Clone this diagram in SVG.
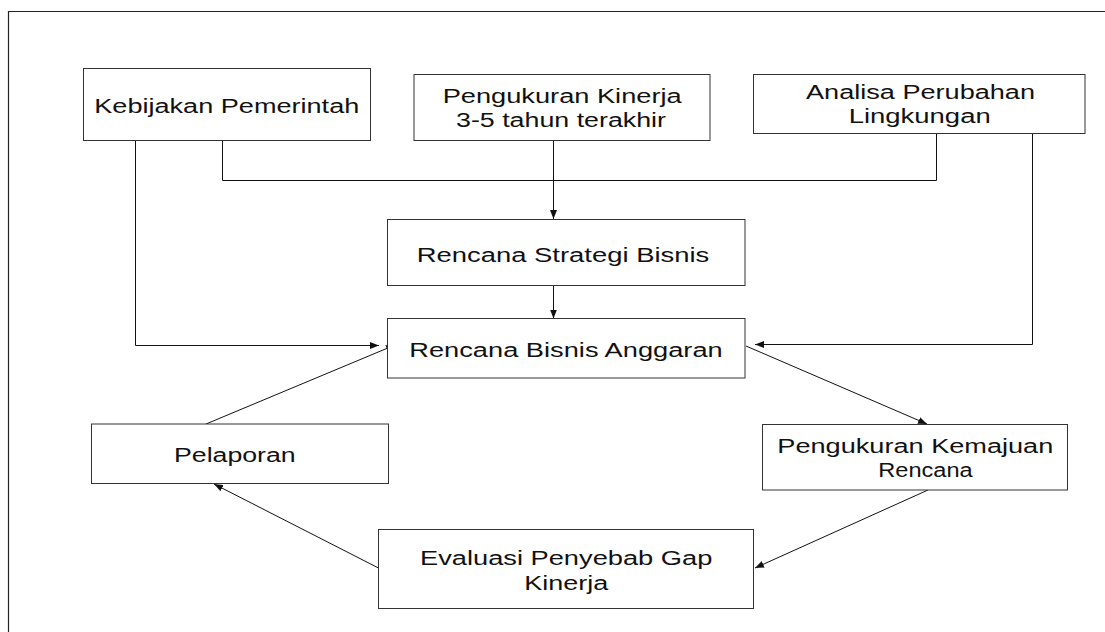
<svg xmlns="http://www.w3.org/2000/svg" width="1105" height="632" viewBox="0 0 1105 632">
<style>
.box{fill:#fff;stroke:#333;stroke-width:1}
.lbl{font-family:"Liberation Sans",Arial,sans-serif;font-size:19.5px;fill:#111}
.con{fill:none;stroke:#111;stroke-width:1}
.arr{marker-end:url(#ah)}
</style>
<defs>
<marker id="ah" markerUnits="userSpaceOnUse" markerWidth="9" markerHeight="7" refX="9" refY="3.5" orient="auto">
<path d="M0,0 L9,3.5 L0,7 z" fill="#111"/>
</marker>
</defs>
<rect width="1105" height="632" fill="#fff"/>
<path d="M1105,11.5 H8.5 V632" fill="none" stroke="#222" stroke-width="1.2"/>
<g id="connectors">
<path class="con arr" d="M135.5,140 V345.5 H379"/>
<path class="con" d="M222.5,140 V180.5 H936.5 V133"/>
<path class="con arr" d="M553.5,140 V219"/>
<path class="con arr" d="M1032.5,133 V344.5 H755"/>
<path class="con arr" d="M553.5,285 V318.5"/>
<path class="con arr" d="M746,346 L927,424"/>
<path class="con arr" d="M928,490 L755,568"/>
<path class="con arr" d="M378.5,568 L214,484"/>
<path class="con arr" d="M206,424 L395,345"/>
</g>
<g id="kebijakan">
<rect class="box" x="83.5" y="68.5" width="287" height="72"/>
<text class="lbl" x="94.3" y="112.5" textLength="265" lengthAdjust="spacingAndGlyphs">Kebijakan Pemerintah</text>
</g>
<g id="pengukuran-kinerja">
<rect class="box" x="414" y="74.5" width="296" height="66"/>
<text class="lbl" x="442.7" y="103.3" textLength="239" lengthAdjust="spacingAndGlyphs">Pengukuran Kinerja</text>
<text class="lbl" x="456" y="126.7" textLength="210" lengthAdjust="spacingAndGlyphs">3-5 tahun terakhir</text>
</g>
<g id="analisa">
<rect class="box" x="753.5" y="74.5" width="331.5" height="59"/>
<text class="lbl" x="806" y="99.3" textLength="229" lengthAdjust="spacingAndGlyphs">Analisa Perubahan</text>
<text class="lbl" x="848.7" y="122.8" textLength="142" lengthAdjust="spacingAndGlyphs">Lingkungan</text>
</g>
<g id="rencana-strategi">
<rect class="box" x="387.5" y="219.5" width="357.5" height="66"/>
<text class="lbl" x="416.7" y="261.5" textLength="292.6" lengthAdjust="spacingAndGlyphs">Rencana Strategi Bisnis</text>
</g>
<g id="rencana-anggaran">
<rect class="box" x="387.5" y="318.5" width="357.5" height="59.5"/>
<text class="lbl" x="409.3" y="357.3" textLength="313.4" lengthAdjust="spacingAndGlyphs">Rencana Bisnis Anggaran</text>
</g>
<g id="kemajuan">
<rect class="box" x="762.5" y="424.5" width="305" height="65.5"/>
<text class="lbl" x="777.3" y="453.3" textLength="276" lengthAdjust="spacingAndGlyphs">Pengukuran Kemajuan</text>
<text class="lbl" x="878.3" y="477.3" textLength="94.4" lengthAdjust="spacingAndGlyphs">Rencana</text>
</g>
<g id="pelaporan">
<rect class="box" x="91.5" y="424" width="297" height="59.5"/>
<text class="lbl" x="174" y="461.7" textLength="121.7" lengthAdjust="spacingAndGlyphs">Pelaporan</text>
</g>
<g id="evaluasi">
<rect class="box" x="378.5" y="529.5" width="375" height="79"/>
<text class="lbl" x="420" y="565" textLength="292.3" lengthAdjust="spacingAndGlyphs">Evaluasi Penyebab Gap</text>
<text class="lbl" x="524.3" y="590" textLength="84" lengthAdjust="spacingAndGlyphs">Kinerja</text>
</g>
</svg>
